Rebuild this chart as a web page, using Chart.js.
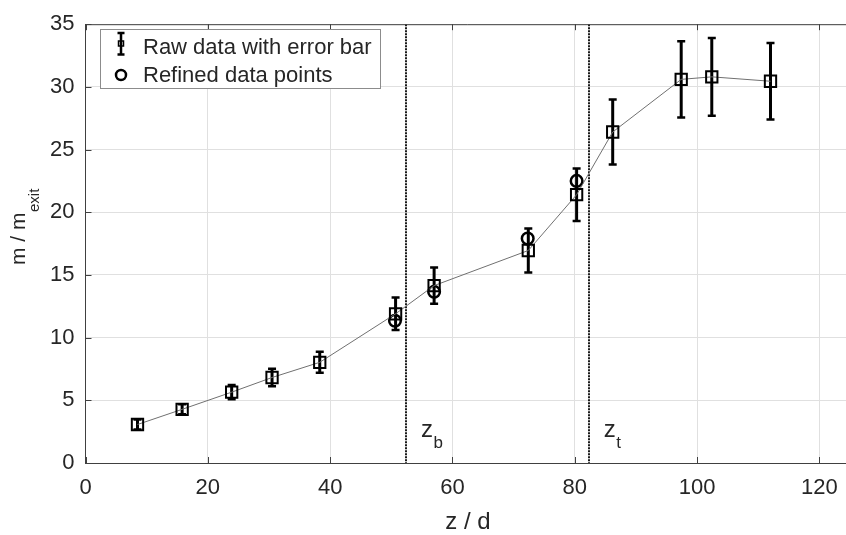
<!DOCTYPE html>
<html><head><meta charset="utf-8">
<script src="https://cdn.jsdelivr.net/npm/chart.js@4/dist/chart.umd.min.js"></script>
<style>html,body{margin:0;padding:0;overflow:hidden;background:#fff}</style>
</head><body>
<canvas id="c" width="860" height="535" style="width:860px;height:535px;display:block"></canvas>
<script>
// ---- data ----
const zRaw = [8.5, 15.8, 23.9, 30.5, 38.3, 50.7, 57.0, 72.4, 80.3, 86.2, 97.4, 102.4, 112.0];
const mRaw = [3.07, 4.28, 5.65, 6.82, 8.03, 11.9, 14.15, 16.95, 21.4, 26.4, 30.6, 30.8, 30.45];
const mErr = [0.4, 0.4, 0.57, 0.7, 0.84, 1.3, 1.45, 1.75, 2.1, 2.6, 3.05, 3.1, 3.05];
const zRef = [50.6, 57.0, 72.3, 80.3];
const mRef = [11.35, 13.65, 17.9, 22.5];
const zMarks = [52.4, 82.3];
const zMarkSubs = ['b', 't'];
const xTicks = [0, 20, 40, 60, 80, 100, 120];
const legendLabels = ['Raw data with error bar', 'Refined data points'];

const FONT = '"Liberation Sans", Arial, sans-serif';
const AX = '#262626';

const errorBars = {
  id: 'errorBars',
  beforeDatasetsDraw(chart) {
    const {ctx, scales: {x, y}} = chart;
    ctx.save();
    ctx.strokeStyle = '#000';
    zRaw.forEach((z, i) => {
      const px = x.getPixelForValue(z);
      const top = y.getPixelForValue(mRaw[i] + mErr[i]);
      const bot = y.getPixelForValue(mRaw[i] - mErr[i]);
      ctx.lineWidth = 3;
      ctx.beginPath();
      ctx.moveTo(px, top); ctx.lineTo(px, bot);
      ctx.stroke();
      ctx.lineWidth = 2.5;
      ctx.beginPath();
      ctx.moveTo(px - 4, top); ctx.lineTo(px + 4, top);
      ctx.moveTo(px - 4, bot); ctx.lineTo(px + 4, bot);
      ctx.stroke();
    });
    ctx.restore();
  }
};

const frame = {
  id: 'frame',
  beforeDatasetsDraw(chart) {
    const {ctx, chartArea: a, scales: {x}} = chart;
    ctx.save();
    ctx.strokeStyle = '#1a1a1a';
    ctx.lineWidth = 2;
    ctx.setLineDash([2, 1]);
    zMarks.forEach(z => {
      const px = Math.round(x.getPixelForValue(z));
      ctx.beginPath(); ctx.moveTo(px, a.top); ctx.lineTo(px, a.bottom); ctx.stroke();
    });
    ctx.setLineDash([]);
    ctx.fillStyle = AX;
    ctx.textBaseline = 'alphabetic';
    zMarks.forEach((z, i) => {
      const px = x.getPixelForValue(z);
      ctx.font = '24px ' + FONT;
      ctx.fillText('z', px + 15, a.bottom - 26);
      const w = ctx.measureText('z').width;
      ctx.font = '17px ' + FONT;
      ctx.fillText(zMarkSubs[i], px + 15 + w + 0.5, a.bottom - 15);
    });
    ctx.restore();
  },
  afterDraw(chart) {
    const {ctx, chartArea: a, scales: {x, y}} = chart;
    ctx.save();
    ctx.strokeStyle = '#404040';
    ctx.lineWidth = 1;
    ctx.beginPath();
    ctx.moveTo(a.left, a.top + 0.5); ctx.lineTo(a.right, a.top + 0.5);
    xTicks.forEach(v => {
      const px = Math.round(x.getPixelForValue(v)) + 0.5;
      ctx.moveTo(px, a.bottom); ctx.lineTo(px, a.bottom - 6);
      ctx.moveTo(px, a.top); ctx.lineTo(px, a.top + 6);
    });
    for (let v = 0; v <= 35; v += 5) {
      const py = Math.round(y.getPixelForValue(v)) + 0.5;
      ctx.moveTo(a.left, py); ctx.lineTo(a.left + 6, py);
    }
    ctx.stroke();

    // axis titles
    ctx.fillStyle = AX;
    ctx.textBaseline = 'alphabetic';
    ctx.font = '24px ' + FONT;
    ctx.textAlign = 'center';
    ctx.fillText('z / d', 468, 529);
    ctx.textAlign = 'left';
    ctx.save();
    ctx.translate(25, 265);
    ctx.rotate(-Math.PI / 2);
    ctx.font = '21px ' + FONT;
    ctx.fillText('m / m', 0, 0);
    const w = ctx.measureText('m / m').width;
    ctx.font = '15px ' + FONT;
    ctx.fillText('exit', w + 0.5, 14);
    ctx.restore();

    // legend
    const L = {x: 100, y: 29, w: 280, h: 59};
    ctx.fillStyle = '#fff';
    ctx.fillRect(L.x, L.y, L.w, L.h);
    ctx.strokeStyle = '#8c8c8c';
    ctx.lineWidth = 1;
    ctx.strokeRect(L.x + 0.5, L.y + 0.5, L.w, L.h);
    ctx.strokeStyle = '#000';
    ctx.lineWidth = 2.5;
    ctx.beginPath();
    ctx.moveTo(121, 33); ctx.lineTo(121, 54.5);
    ctx.moveTo(117.5, 33); ctx.lineTo(124.5, 33);
    ctx.moveTo(117.5, 54.5); ctx.lineTo(124.5, 54.5);
    ctx.stroke();
    ctx.lineWidth = 1.5;
    ctx.strokeRect(118.5, 41, 5, 5);
    ctx.lineWidth = 2.5;
    ctx.beginPath();
    ctx.arc(121, 75, 5, 0, Math.PI * 2);
    ctx.stroke();
    ctx.fillStyle = AX;
    ctx.font = '22px ' + FONT;
    ctx.fillText(legendLabels[0], 143, 53.5);
    ctx.fillText(legendLabels[1], 143, 81.5);
    ctx.restore();
  }
};

new Chart(document.getElementById('c'), {
  type: 'scatter',
  data: {
    datasets: [
      {
        label: legendLabels[0],
        data: zRaw.map((z, i) => ({x: z, y: mRaw[i]})),
        showLine: true,
        borderColor: '#707070',
        borderWidth: 1,
        pointStyle: 'rect',
        pointRadius: 8,
        pointBorderWidth: 2,
        pointBorderColor: '#000',
        pointBackgroundColor: 'rgba(0,0,0,0)'
      },
      {
        label: legendLabels[1],
        data: zRef.map((z, i) => ({x: z, y: mRef[i]})),
        showLine: false,
        pointStyle: 'circle',
        pointRadius: 5.8,
        pointBorderWidth: 2.5,
        pointBorderColor: '#000',
        pointBackgroundColor: 'rgba(0,0,0,0)'
      }
    ]
  },
  options: {
    responsive: false,
    animation: false,
    devicePixelRatio: 1,
    layout: {padding: {left: 0, top: 11, right: 6.6, bottom: 0}},
    plugins: {legend: {display: false}, tooltip: {enabled: false}},
    scales: {
      x: {
        type: 'linear', min: 0, max: 125,
        afterBuildTicks: s => { s.ticks = xTicks.map(v => ({value: v})); },
        afterFit: s => { s.height = 72; },
        ticks: {font: {family: FONT, size: 22}, color: AX, padding: 12},
        grid: {color: '#e0e0e0', lineWidth: 1, drawTicks: false},
        border: {color: '#404040', width: 1}
      },
      y: {
        type: 'linear', min: 0, max: 35,
        afterFit: s => { s.width = 85.5; },
        ticks: {stepSize: 5, font: {family: FONT, size: 22}, color: AX, padding: 11},
        grid: {color: '#e0e0e0', lineWidth: 1, drawTicks: false},
        border: {color: '#404040', width: 1}
      }
    }
  },
  plugins: [errorBars, frame]
});
</script>
</body></html>
